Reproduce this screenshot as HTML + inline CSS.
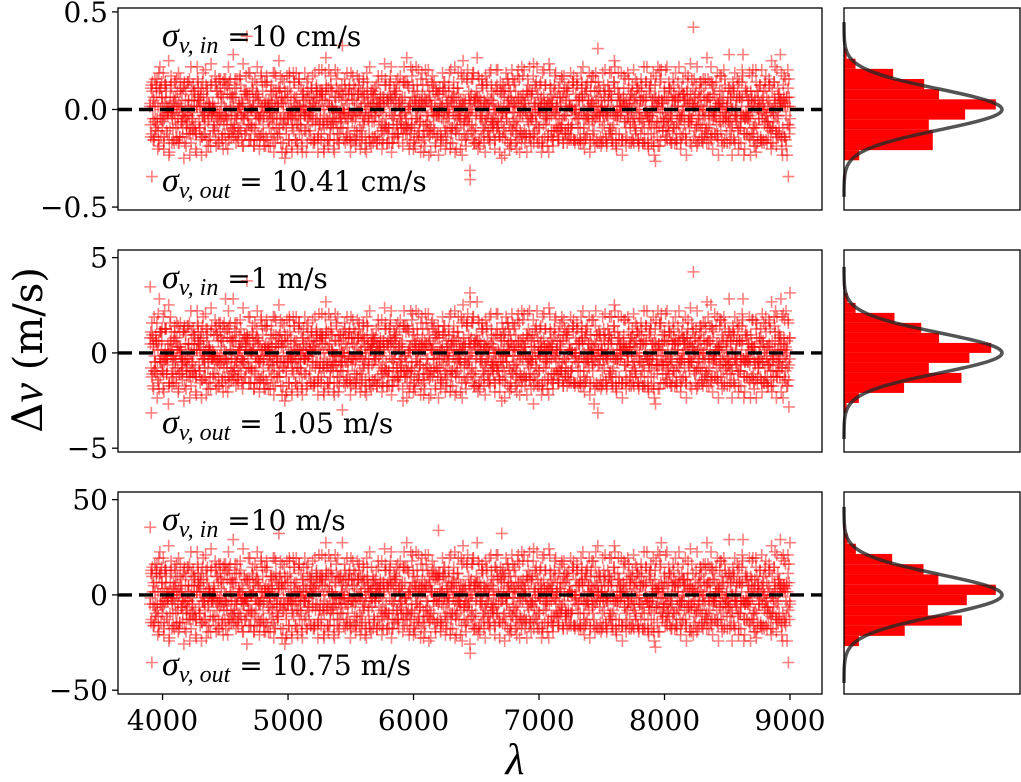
<!DOCTYPE html>
<html><head><meta charset="utf-8">
<style>
html,body{margin:0;padding:0;background:#fff;}
svg{display:block;}
text{font-family:"DejaVu Serif","Liberation Serif",serif;fill:#000;}
.m{font-family:"Liberation Serif","DejaVu Serif",serif;font-style:italic;}
</style></head>
<body>
<svg id="fig" width="1021" height="782" viewBox="0 0 1021 782" xmlns="http://www.w3.org/2000/svg">
<g id="layer"></g>
<text transform="translate(42,350) rotate(-90)" text-anchor="middle" font-size="40"><tspan font-size="42">Δ</tspan><tspan class="m" font-size="44">v</tspan> (m/s)</text>
<text class="m" x="515" y="774" text-anchor="middle" font-size="44">λ</text>
</svg>
<script>
// wavelength grid limits
const lamStart = 3900, lamEnd = 9000;
const xTicks = [4000, 5000, 6000, 7000, 8000, 9000];
// noise levels per panel: 'm' = 0
const p1Data =
"mlnkomjnlpmknolmkjnmolnkmpjlnmokmlnqkmnlojmknmplnkomljnmkonl"+
"nkmlojmnlkpmnkolmjnlmokmnlkjmopnlmknojlmnkmlpoknmjlnmkolmnkm"+
"lmokjnmlnpkmolnmkjlonmkmlnopkjmlnmokqnlmkjnomlkmnpolkmnjlmok"+
"okmnljmpnkmlonmjkmlnopmkljnmokmnlkjpmnolkmjnlmoknmlpjkmnolmk"+
"mnlkojmnpkmlnomkjlnmkpolnmjkmlonmkpljnmokmlnjkomnlpmkjnlomkn"+
"kmnolmjnkplmonkjmlnmokpnlmjkmnolmkjpnmlokmnljkmpnomlkjnmolkm"+
"nmlkmojnmpklmnojmknlpmokjnmlkmnopkjmlnmkolnjmkpomnlkjmnolmkn"+
"lnkmojnmplkmnlojmknmlpokjmnlkmonpmkjlnmokmnlpkjmnolkmnjlpmok"+
"mqkolnmjnkmlponkmjlnmokpmnljkmnolmkjpnmlokmnlkjmnpolmknjlmok"+
"nlmokjmnpklmonjmkmlnopkjmnlkmonpmkjlnmokmlnpkjmnolmkjnlpmokm"+
"hmnlkpojmnlkmqnomkjlnmpokmnljkmonlmkpjnmolkmnljkmponmlkjnmoi"+
"lmkonjmplnkmolmnkjpmlnokmnljkmpnomlkjnmokpmnlkjmnolpmkjnmlok"+
"kmnlopjmnkmlonmkjlpnmokmlnkjmpnolmkjnmlopkmnljkmonmlpkjnmolk"+
"mnokljmnpkmlonjmkmlnpokjmnlkmonpmkjlnmokmlnpjkmnolmkjnlpmokr"+
"onmlkjmnpkolmnjmkmlnopkjmnlkmoqpmkjlnmokmlnpkjmnolmkjnlpmokm"+
"lnmkojpmnlkmonjmkmlnpokjmnlkmonpmkjlnmokmlnpkjmiolmkjnlpmoqm"+
"mknlojpmnkmlonjmkmlnpokjmnlkmonpmkjlnmokmlnpkjmnolmkjnlpmosn"+
"nmkolpjmnkmlonjmkmlnpokjmnlkmonpmkjlnmokmlnpkjmnolmkjnlpmokm"+
"kmnloqjmnkmlonjmkmlnpokjmnlkmonqmkjlnmokmlnpkjmnolmkjnlpiokm"+
"mlnokjpmnkmlonjmkmlnpokjimlkmonpmkjlnmokmqnpkjmnolmkjnlphokm";
const p2Data =
"nmlkojmnplmknolmkjnmolnkmpjlnmokmlnqkmnlojmknmplnkomljnmkonl"+
"lkmnojmnlkpmnkolmjnlmokmnlkjmopnlmknojlmnkmlpoknmjlnmkolmnkm"+
"mlokjnmlnpkmolnmkjlonmkmlnopkjmlnmokqnlmkjnomlkmnpolkmnjlmok"+
"kmonljmpnkmlonmjkmlnopmkljnmokmnlkjpmnolkmjnlmoknmlpjkmnolmk"+
"nmlkojmnpkmlnomkjlnmkpolnmjkmlonmkpljnmokmlnjkomnlpmkjnlomkn"+
"mknolmjnkplmonkjmlnmokpnlmjkmnolmkjpnmlokmnljkmpnomlkjnmolkm"+
"lmnkmojnmpklmnojmknlpmokjnmlkmnopkjmlnmkolnjmkpomnlkjmnolmkn"+
"nlkmojnmplkmnlojmknmlpokjmnlkmonpmkjlnmokmnlpkjmnolkmnjlpmok"+
"mikolnmjnkmlponkmjlnmokpmnljkmnolmkjpnmlokmnlkjmnpolmknjlmok"+
"onmlkjmnpklmonjmkmlnopkjmnlkmonpmkjlnmokmlnpkjmnolmkjnlpmokm"+
"rmnlkpojmnlkmqnomkjlnmpokmnljkmonlmkpjnmolkmnljkmponmlkjnmoi"+
"kmlonjmplnkmolmnkjpmlnokmnljkmpnomlkjnmokpmnlkjmnolpmkjnmlok"+
"nmklopjmnkmlonmkjlpnmokmlnkjmpnolmkjnmlopkmnljkmonmlpkjnmolk"+
"lnokmjmnpkmlonjmkmlnpokjmnlkmonpmkjlnmokmlnpjkmnolmkjnlpmokh"+
"mnolkjmnpkolmnjmkmlnopkjmnlkmoqpmkjlnmokmlnpkjmnolmkjnlpmokm"+
"knmlojpmnlkmonjmkmlnpokjmnlkmonpmkjlnmokmlnpkjmiolmkjnlpmoqm"+
"lmknojpmnkmlonjmkmlnpokjmnlkmonpmkjlnmokmlnpkjmnolmkjnlpmosn"+
"mnkolpjmnkmlonjmkmlnpokjmnlkmonpmkjlnmqkmlnpkjmnolmkjnlpmokm"+
"nkmloqjmnkmlonjmkmlnpokjmnlkmonqmkjlnmokmlnpkjmnolmkjnlpiokm"+
"kmlnokjpmnkmlonjmkmlnpokjimlkmonpmkjlnmokmqnpkjmnolmkjnlphor";
const p3Data =
"lmnkomjnlpmknolmkjnmolnkmpjlnmokmlnqkmnlojmknmplnkomljnmkonl"+
"mkmlojmnlkpmnkolmjnlmokmnlkjmopnlmknojlmnkmlpoknmjlnmkolmnkm"+
"nmokjnmlnpkmolnmkjlonmkmlnopkjmlnmokqnlmkjnomlkmnpolkmnjlmok"+
"lkmnljmpnkmlonmjkmlnopmkljnmokmnlkjpmnolkmjnlmoknmlpjkmnolmk"+
"kmnlojmnpkmlnomkjlnmkpolnmjkmlonmkpljnmokmlnjkomnlpmkjnlomkn"+
"nkmolmjnkplmonkjmlnmokpnlmjkmnolmkjpnmlokmnljkmpnomlkjnmolkm"+
"mnlkmojnmpklmnojmknlpmokjnmlkmnopkjmlnmkolnjmkpomnlkjmnolmkn"+
"klnmojnmplkmnlojmknmlpokjmnlkmonpmkjlnmokmnlpkjmnolkmnjlpmok"+
"mqkolnmjnkmlponkmjlnmokpmnljkmnolmkjpnmlokmnlkjmnpolmknjlmok"+
"lnmokjmnpklmonjmkmlnopkjmnlkmonpmkjlnmokmlnpkjmnolmkjnlpmokm"+
"imnlkpojmnlkmqnomkjlnmpokmnljkmonlmkpjnmolkmnljkmponmlkjnmor"+
"nmkonjmplnkmolmnkjpmlnokmnljkmpnomlkjnmokpmnlkjmnolpmkjnmlok"+
"lmnkopjmnkmlonmkjlpnmokmlnkjmpnolmkjnmlopkmnljkmonmlpkjnmolk"+
"knomljmnpkmlonjmkmlnpokjmnlkmonpmkjlnmokmlnpjkmnolmkjnlpmokq"+
"mnolkjmnpkolmnjmkmlnopkjmnlkmoqpmkjlnmokmlnpkjmnolmkjnlpmokm"+
"nlmkojpmnlkmonjmkmlnpokjmnlkmonpmkjlnmokmlnpkjmiolmkjnlpmorm"+
"kmnlojpmnkmlonjmkmlnpokjmnlkmonpmkjlnmokmlnpkjmnolmkjnlpmoin"+
"lmkolpjmnkmlonjmkmlnpokjmnlkmonpmkjlnmokmlnpkjmnolmkjnlpmokm"+
"mkmloqjmnkmlonjmkmlnpokjmnlkmonqmkjlnmokmlnpkjmnolmkjnlpiokm"+
"nlmokjpmnkmlonjmkmlnpokjimlkmonpmkjlnmokmqnpkjmnolmkjnlphokr";
const levelStep = 0.6, fineStep = 0.15, zeroCode = 109;
const fineLagA = 7, fineLagB = 13;
const yLims = [[-0.515, 0.52], [-5.2, 5.4], [-52, 54]];
const yTicks = [[-0.5, 0.0, 0.5], [-5, 0, 5], [-50, 0, 50]];
const yTickText = [["−0.5","0.0","0.5"],["−5","0","5"],["−50","0","50"]];
const inLabels = ["10 cm/s", "1 m/s", "10 m/s"];
const outLabels = ["10.41 cm/s", "1.05 m/s", "10.75 m/s"];
const outSig = [0.1041, 1.05, 10.75];
const binWidthSigma = 0.5;

const NS = "http://www.w3.org/2000/svg";
const layer = document.getElementById('layer');
function mk(tag, attrs, parent) {
  const e = document.createElementNS(NS, tag);
  for (const k in attrs) e.setAttribute(k, attrs[k]);
  (parent || layer).appendChild(e);
  return e;
}
const X0 = 118, X1 = 822, HX0 = 844, HX1 = 1020;
const panelTop = [8, 250, 492], panelH = 202;
const xMin = 3645, xMax = 9255;
function xs(v) { return X0 + (v - xMin) / (xMax - xMin) * (X1 - X0); }
const datas = [p1Data, p2Data, p3Data];

for (let p = 0; p < 3; p++) {
  const top = panelTop[p], bot = top + panelH;
  const lo = yLims[p][0], hi = yLims[p][1];
  const ys = v => bot - (v - lo) / (hi - lo) * panelH;
  const g = mk('g', {});
  
  
  const str = datas[p];
  const n = str.length;
  const s = outSig[p];
  const code = i => str.charCodeAt(((i % n) + n) % n) - zeroCode;
  const vals = [], lams = [];
  for (let i = 0; i < n; i++) {
    const lamA = lamStart + i * (lamEnd - lamStart) / (n - 1);
    vals.push((code(i) * levelStep + code(i + fineLagA) * fineStep) * s);
    lams.push(lamA);
    vals.push((code(n - 1 - i) * levelStep + code(i + fineLagB) * fineStep) * s);
    lams.push(Math.min(lamEnd, lamA + 0.5 * (lamEnd - lamStart) / (n - 1)));
  }
  const N = vals.length;
  for (let i = 0; i < N; i++) {
    const cx = xs(lams[i]), cy = ys(vals[i]);
    const pt = mk('path', {d: `M${cx-6},${cy}h12M${cx},${cy-6}v12`, stroke: 'rgba(255,0,0,0.5)', 'stroke-width': 1.6, fill: 'none'}, g);
    
    
  }
  const zl = mk('line', {x1: X0, x2: X1, y1: ys(0), y2: ys(0), stroke: '#000', 'stroke-width': 3.4, 'stroke-dasharray': '14,7'}, g);
  
  
  const fr = mk('rect', {x: X0, y: top, width: X1 - X0, height: panelH, fill: 'none', stroke: '#000', 'stroke-width': 1.3}, g);
  
  
  for (let t = 0; t < yTicks[p].length; t++) {
    const y = ys(yTicks[p][t]);
    mk('line', {x1: X0 - 6, x2: X0, y1: y, y2: y, stroke: '#000', 'stroke-width': 1.3}, g);
    const tl = mk('text', {x: X0 - 10, y: y + 10, 'text-anchor': 'end', 'font-size': 28}, g);
    tl.textContent = yTickText[p][t];
    
    
  }
  const a1 = mk('text', {x: 162, y: top + 38, 'font-size': 28}, g);
  a1.innerHTML = '<tspan class="m" font-size="34">σ</tspan><tspan class="m" font-size="24" dy="7">v, in</tspan><tspan dy="-7"> =' + inLabels[p] + '</tspan>';
  
  
  const a2 = mk('text', {x: 162, y: top + 183, 'font-size': 28}, g);
  a2.innerHTML = '<tspan class="m" font-size="34">σ</tspan><tspan class="m" font-size="24" dy="7">v, out</tspan><tspan dy="-7"> =  ' + outLabels[p] + '</tspan>';
  
  

  const hg = mk('g', {});
  
  
  const bw = binWidthSigma * s;
  const counts = {};
  for (const v of vals) { const b = Math.floor(v / bw); counts[b] = (counts[b] || 0) + 1; }
  const peakPdf = 1 / (s * Math.sqrt(2 * Math.PI));
  const peakPx = 158;
  const hh = bw / (hi - lo) * panelH;
  for (const b in counts) {
    const dens = counts[b] / (N * bw);
    const w = Math.min(HX1 - HX0 - 8, dens / peakPdf * peakPx);
    const y1 = ys((+b + 1) * bw);
    const hb = mk('rect', {x: HX0, y: y1, width: w, height: hh, fill: '#ff0000'}, hg);
    
    
  }
  let d = '';
  for (let k = 0; k <= 200; k++) {
    const v = -4.3 * s + k * 8.6 * s / 200;
    const px = HX0 + Math.exp(-0.5 * (v / s) * (v / s)) * peakPx;
    d += (k ? 'L' : 'M') + px.toFixed(2) + ',' + ys(v).toFixed(2);
  }
  const cv = mk('path', {d: d, fill: 'none', stroke: 'rgba(40,40,40,0.8)', 'stroke-width': 3.5}, hg);
  
  
  const hf = mk('rect', {x: HX0, y: top, width: HX1 - HX0, height: panelH, fill: 'none', stroke: '#000', 'stroke-width': 1.3}, hg);
  
  

  if (p === 2) {
    for (const t of xTicks) {
      const x = xs(t);
      mk('line', {x1: x, x2: x, y1: bot, y2: bot + 6, stroke: '#000', 'stroke-width': 1.3});
      const xl = mk('text', {x: x, y: bot + 36, 'text-anchor': 'middle', 'font-size': 28});
      xl.textContent = t;
      
      
    }
  }
}
</script>
</body></html>
